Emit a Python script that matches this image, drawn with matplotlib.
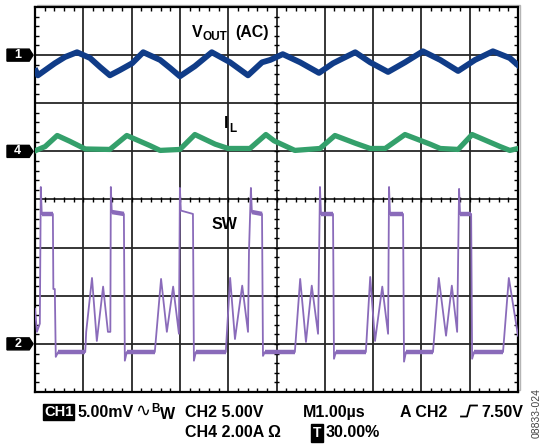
import numpy as np
import matplotlib
matplotlib.use('Agg')
import matplotlib.pyplot as plt
from matplotlib.patches import Polygon, Rectangle
from matplotlib.collections import LineCollection
from matplotlib.lines import Line2D

plt.rcParams['font.family'] = ['Liberation Sans', 'DejaVu Sans']

vout_t = [0.02, 0.06, 0.41, 0.62, 0.87, 1.14, 1.35, 1.55, 1.76, 2.01, 2.24, 2.59, 2.80,
          3.00, 3.31, 3.66, 4.04, 4.41, 4.70, 4.87, 5.13, 5.49, 5.88, 6.17, 6.63, 6.94,
          7.31, 7.66, 8.03, 8.39, 8.76, 9.11, 9.48, 9.83, 10.0]
vout_lvl = [-0.33, -0.42, -0.17, -0.04, 0.06, -0.06, -0.25, -0.42, -0.31, -0.17, 0.06, -0.10, -0.27,
            -0.44, -0.23, 0.06, -0.15, -0.42, -0.15, -0.10, 0.02, -0.15, -0.37, -0.17, 0.06, -0.15,
            -0.35, -0.15, 0.08, -0.10, -0.33, -0.10, 0.08, -0.06, -0.21]

il_t = [0.02, 0.21, 0.46, 0.72, 1.04, 1.55, 1.90, 2.38, 2.59, 3.00, 3.31, 3.73, 4.00, 4.45,
        4.78, 4.95, 5.38, 5.90, 6.21, 6.63, 6.94, 7.25, 7.66, 8.18, 8.39, 8.76, 9.05, 9.63,
        9.83, 10.0]
il_lvl = [0.02, 0.10, 0.33, 0.21, 0.05, 0.04, 0.33, 0.12, 0.02, 0.04, 0.35, 0.15, 0.06, 0.06,
          0.35, 0.22, 0.02, 0.06, 0.33, 0.17, 0.06, 0.06, 0.35, 0.15, 0.06, 0.04, 0.35, 0.10,
          0.02, 0.06]

sw_t = [0.00, 0.04, 0.10, 0.12, 0.14, 0.37, 0.38, 0.41, 0.43, 0.48, 1.04, 1.06, 1.18, 1.28,
        1.41, 1.51, 1.56, 1.57, 1.59, 1.84, 1.86, 1.90, 2.48, 2.61, 2.73, 2.86, 2.98, 3.00,
        3.02, 3.27, 3.29, 3.33, 3.95, 4.04, 4.14, 4.29, 4.41, 4.43, 4.47, 4.49, 4.70, 4.72,
        4.76, 5.38, 5.49, 5.61, 5.73, 5.86, 5.90, 5.92, 6.17, 6.19, 6.23, 6.85, 6.94, 7.04,
        7.19, 7.31, 7.33, 7.35, 7.62, 7.64, 7.68, 8.24, 8.36, 8.51, 8.63, 8.74, 8.78, 8.80,
        9.03, 9.05, 9.09, 9.69, 9.81, 10.0]
sw_lvl = [0.73, 0.25, 0.42, 3.26, 2.70, 2.70, 1.14, 1.14, -0.27, -0.17, -0.17, 0.25, 1.37, 0.06,
          1.19, 0.25, 0.25, 3.26, 2.74, 2.70, -0.35, -0.17, -0.17, 1.35, 0.25, 1.19, 0.21, 3.24,
          2.77, 2.70, -0.35, -0.17, -0.17, 1.37, 0.10, 1.21, 0.25, 1.91, 3.24, 2.74, 2.70, -0.25,
          -0.17, -0.17, 1.35, 0.04, 1.21, 0.21, 3.26, 2.70, 2.70, -0.31, -0.17, -0.17, 1.39, 0.06,
          1.19, 0.21, 3.26, 2.70, 2.70, -0.37, -0.17, -0.17, 1.37, 0.17, 1.21, 0.25, 3.22, 2.70,
          2.70, -0.31, -0.17, -0.17, 1.37, 0.17]

# Repères des voies (divisions depuis le bas de l'écran)
ch1_ref, ch4_ref, ch2_ref = 7.0, 5.0, 1.0

W, H = 545, 444
fig = plt.figure(figsize=(W / 100, H / 100), dpi=100)


def fx(x):
    return x / W


def fy(y):
    return 1 - y / H


# ombre grise du cadre
fig.patches.append(Rectangle((fx(37), fy(390)), fx(520) - fx(37), fy(5) - fy(390),
                             transform=fig.transFigure, fill=False, ec='#b5b5b5',
                             lw=1.0, zorder=-1))

ax = fig.add_axes([fx(35), fy(392), fx(518) - fx(35), fy(7) - fy(392)])
ax.set_xlim(0, 10)
ax.set_ylim(0, 8)
ax.set_xticks(np.arange(11))
ax.set_yticks(np.arange(9))
ax.set_xticks(np.arange(0, 10.01, 0.2), minor=True)
ax.set_yticks(np.arange(0, 8.01, 0.2), minor=True)
ax.grid(True, which='major', color='#262626', lw=1.3)
ax.set_axisbelow(True)
ax.tick_params(which='major', length=0, labelbottom=False, labelleft=False)
ax.tick_params(which='minor', direction='in', length=3, width=1.0, color='k',
               top=True, right=True)
for sp in ax.spines.values():
    sp.set_linewidth(1.6)

# graduations sur les axes centraux
segs = [[(5 - 0.06, y), (5 + 0.06, y)] for y in np.arange(0.2, 8, 0.2)]
segs += [[(x, 4 - 0.06), (x, 4 + 0.06)] for x in np.arange(0.2, 10, 0.2)]
ax.add_collection(LineCollection(segs, colors='k', linewidths=1.0, zorder=1))

# Traces
sw_col = '#8a6bba'
sw_y = np.array(sw_lvl) + ch2_ref
ax.plot(sw_t, sw_y, color=sw_col, lw=1.3, zorder=3)
# paliers bruités (haut et bas) plus épais
for i in range(len(sw_t) - 1):
    if abs(sw_lvl[i + 1] - sw_lvl[i]) < 0.06 and sw_t[i + 1] - sw_t[i] > 0.1:
        ax.plot(sw_t[i:i + 2], sw_y[i:i + 2], color=sw_col, lw=3.2, zorder=3,
                solid_capstyle='butt')
ax.plot(il_t, np.array(il_lvl) + ch4_ref, color='#34a06b', lw=3.8, zorder=3,
        solid_joinstyle='round')
ax.plot(vout_t, np.array(vout_lvl) + ch1_ref, color='#103c88', lw=4.2, zorder=3,
        solid_joinstyle='round')

# Repères des voies à gauche
for ref, lab in [(ch1_ref, '1'), (ch4_ref, '4'), (ch2_ref, '2')]:
    pts = [(-0.58, ref - 0.125), (-0.12, ref - 0.125), (-0.04, ref),
           (-0.12, ref + 0.125), (-0.58, ref + 0.125)]
    ax.add_patch(Polygon(pts, closed=True, fc='black', ec='black', clip_on=False))
    ax.text(-0.36, ref, lab, color='white', fontsize=9, fontweight='bold',
            ha='center', va='center', clip_on=False)

# Étiquettes des traces
ax.text(3.25, 7.38, 'V', fontsize=11.5, fontweight='bold', va='baseline')
ax.text(3.47, 7.32, 'OUT', fontsize=8.5, fontweight='bold', va='baseline')
ax.text(4.14, 7.38, '(AC)', fontsize=11.5, fontweight='bold', va='baseline')
ax.text(3.91, 5.49, 'I', fontsize=11.5, fontweight='bold', va='baseline')
ax.text(4.02, 5.41, 'L', fontsize=8.5, fontweight='bold', va='baseline')
ax.text(3.66, 3.39, 'SW', fontsize=11.5, fontweight='bold', va='baseline')

# Texte du bas
fs = 11.5
kw = dict(fontsize=fs, fontweight='bold', va='baseline')
fig.text(fx(44), fy(416), 'CH1', color='white', fontsize=10.5, fontweight='bold',
         va='baseline', bbox=dict(boxstyle='square,pad=0.08', fc='black', ec='black'))
fig.text(fx(78), fy(417), '5.00mV', **kw)
fig.text(fx(135), fy(416), '\u223f', fontsize=13, va='baseline',
         family=['DejaVu Sans', 'Liberation Sans'])
fig.text(fx(151), fy(412), 'B', fontsize=8.5, fontweight='bold', va='baseline')
fig.text(fx(160), fy(419), 'W', **kw)
fig.text(fx(185), fy(417), 'CH2 5.00V', **kw)
fig.text(fx(303), fy(417), 'M1.00\u00b5s', **kw)
fig.text(fx(400), fy(417), 'A CH2', **kw)
fig.lines.append(Line2D([fx(461), fx(467), fx(470), fx(477)],
                        [fy(416.5), fy(416.5), fy(405.5), fy(405.5)],
                        transform=fig.transFigure, color='black', lw=1.3))
fig.text(fx(481), fy(417), '7.50V', **kw)
fig.text(fx(185), fy(437), 'CH4 2.00A \u03a9', **kw)
fig.text(fx(313), fy(437), 'T', color='white', fontsize=10, fontweight='bold',
         va='baseline', bbox=dict(boxstyle='square,pad=0.12', fc='black', ec='black'))
fig.text(fx(326), fy(437), '30.00%', **kw)
fig.text(fx(536.5), fy(388), '08833-024', fontsize=7.5, color='#444444',
         rotation=90, ha='center', va='top')

fig.savefig('out.png', dpi=100)
